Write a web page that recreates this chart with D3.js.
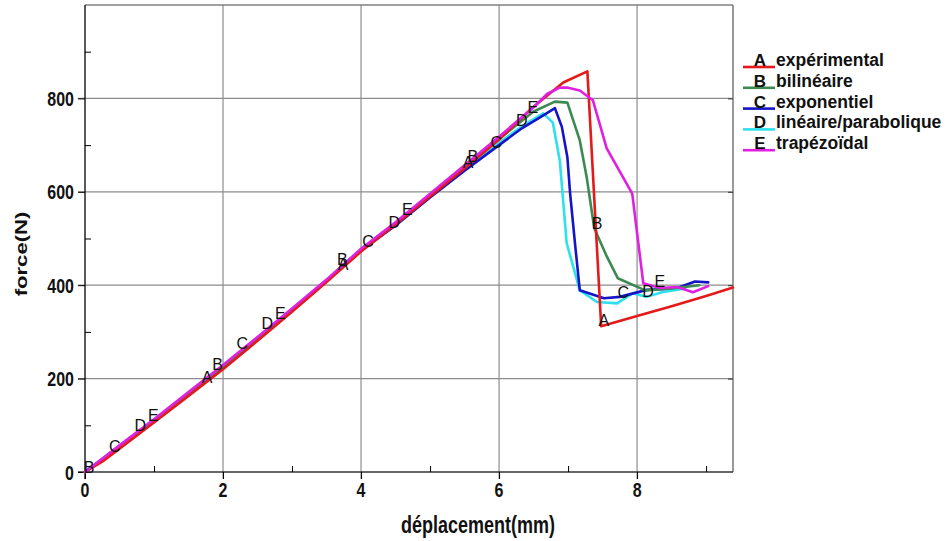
<!DOCTYPE html>
<html><head><meta charset="utf-8">
<script src="https://cdn.jsdelivr.net/npm/d3@7"></script>
<style>
html,body{margin:0;padding:0;background:#fff;}
text{font-family:"Liberation Sans",Arial,sans-serif;}
</style></head>
<body><svg id="c" width="951" height="541"></svg>
<script>
// ---- data ----
const xMajorTicks = [0, 2, 4, 6, 8];
const xMinorTicks = [1, 3, 5, 7, 9];
const yMajorTicks = [0, 200, 400, 600, 800];
const yMinorTicks = [100, 300, 500, 700, 900];
const xTitle = "déplacement(mm)";
const yTitle = "force(N)";

const seriesLetters = ["A", "B", "C", "D", "E"];
const seriesNames = ["expérimental", "bilinéaire", "exponentiel", "linéaire/parabolique", "trapézoïdal"];

const expData = [[0,0],[0.25,22],[0.5,50],[1,106],[1.5,163],[2,220],[2.5,281],[3,343],[3.5,407],[4,472],[4.5,530],[5,590],[5.5,650],[6,712],[6.5,782],[6.93,834],[7.28,858],[7.48,312],[8,334],[8.5,355],[9,377],[9.39,395]];
const bilData = [[0,0],[0.5,54],[1,110],[1.5,168],[2,226],[2.5,286],[3,347],[3.5,410],[4,476],[4.5,532],[5,593],[5.5,653],[6,713],[6.5,772],[6.81,793],[6.99,791],[7.17,710],[7.27,631],[7.38,522],[7.55,465],[7.72,415],[8.12,389],[8.5,393],[8.9,400]];
const expoData = [[0,0],[0.5,55],[1,110],[1.5,167],[2,225],[2.5,285],[3,346],[3.5,409],[4,474],[4.5,528],[5,588],[5.5,645],[6,700],[6.33,736],[6.6,760],[6.81,779],[6.91,739],[6.99,674],[7.03,596],[7.1,490],[7.17,389],[7.52,372],[7.75,375],[8.14,390],[8.4,392],[8.62,396],[8.84,408],[9.03,406]];
const linParData = [[0,0],[0.5,56],[1,111],[1.5,168],[2,226],[2.5,287],[3,348],[3.5,410],[4,476],[4.5,531],[5,592],[5.5,650],[6,705],[6.33,740],[6.64,768],[6.78,748],[6.88,667],[6.98,490],[7.17,389],[7.42,364],[7.71,361],[7.94,383],[8.14,375],[8.36,385],[8.7,393]];
const trapData = [[0,0],[0.5,57],[1,113],[1.5,171],[2,229],[2.5,289],[3,350],[3.5,412],[4,478],[4.5,535],[5,596],[5.5,657],[6,718],[6.5,781],[6.7,810],[6.88,823],[7.0,823],[7.17,817],[7.36,796],[7.56,693],[7.93,596],[7.96,560],[8.09,404],[8.33,394],[8.58,396],[8.81,385],[9.03,398]];

// letter markers along curves (x, force)
const expMarks = [[1.77,204],[3.74,446],[5.55,664],[7.52,325]];
const bilMarks = [[0.06,11],[1.92,232],[3.73,456],[5.62,676],[7.42,533]];
const expoMarks = [[0.43,56],[2.28,276],[4.10,494],[5.96,706],[7.80,385]];
const linParMarks = [[0.80,101],[2.64,319],[4.48,535],[6.33,753],[8.16,387]];
const trapMarks = [[0.99,122],[2.83,340],[4.67,563],[6.49,781],[8.33,409]];

const seriesData = [expData, bilData, expoData, linParData, trapData];
const seriesMarks = [expMarks, bilMarks, expoMarks, linParMarks, trapMarks];
const seriesColors = ["#e41a1a", "#3c8a52", "#1414c8", "#2ee0ee", "#e020e0"];
const drawOrder = [3, 2, 1, 0, 4];

// ---- layout ----
const svg = d3.select("#c");
const pLeft = 85, pRight = 733, pTop = 5, pBottom = 472;
const x = d3.scaleLinear().domain([0, 9.39]).range([pLeft, pRight]);
const y = d3.scaleLinear().domain([0, 1000]).range([pBottom, pTop]);

// grid
const grid = svg.append("g");
grid.selectAll("line.gx").data(xMajorTicks.filter(d => d > 0)).join("line")
  .attr("x1", d => x(d)).attr("x2", d => x(d)).attr("y1", pTop).attr("y2", pBottom + 7)
  .attr("stroke", "#8c8c8c").attr("stroke-width", 1.2);
grid.selectAll("line.gy").data(yMajorTicks.filter(d => d > 0)).join("line")
  .attr("x1", pLeft - 7).attr("x2", pRight).attr("y1", d => y(d)).attr("y2", d => y(d))
  .attr("stroke", "#8c8c8c").attr("stroke-width", 1.2);

// frame top/right
svg.append("line").attr("x1", pLeft).attr("x2", pRight).attr("y1", pTop).attr("y2", pTop)
  .attr("stroke", "#808080").attr("stroke-width", 1.6);
svg.append("line").attr("x1", pRight).attr("x2", pRight).attr("y1", pTop).attr("y2", pBottom)
  .attr("stroke", "#808080").attr("stroke-width", 1.6);
// right inner ticks
svg.append("g").attr("transform", `translate(${pRight},0)`)
  .call(d3.axisRight(y).tickValues(yMajorTicks.filter(d => d > 0)).tickSize(-5).tickFormat(""))
  .call(g => g.select(".domain").remove())
  .call(g => g.selectAll("line").attr("stroke", "#333"));

// bottom axis
svg.append("g").attr("transform", `translate(0,${pBottom})`)
  .call(d3.axisBottom(x).tickValues(xMajorTicks).tickSize(7).tickFormat("").tickSizeOuter(0))
  .call(g => g.selectAll("line").attr("stroke", "#000"))
  .call(g => g.select(".domain").attr("stroke", "#333").attr("stroke-width", 1.3).attr("d", `M${pLeft - 7},0H${pRight}`));
svg.append("g").attr("transform", `translate(0,${pBottom})`)
  .call(d3.axisBottom(x).tickValues(xMinorTicks).tickSize(-6).tickFormat(""))
  .call(g => g.select(".domain").remove())
  .call(g => g.selectAll("line").attr("stroke", "#000"));
// left axis
svg.append("g").attr("transform", `translate(${pLeft},0)`)
  .call(d3.axisLeft(y).tickValues(yMajorTicks).tickSize(7).tickFormat("").tickSizeOuter(0))
  .call(g => g.selectAll("line").attr("stroke", "#000"))
  .call(g => g.select(".domain").attr("stroke", "#000").attr("stroke-width", 1.3).attr("d", `M0,${pTop}V${pBottom + 7}`));
svg.append("g").attr("transform", `translate(${pLeft},0)`)
  .call(d3.axisLeft(y).tickValues(yMinorTicks).tickSize(-6).tickFormat(""))
  .call(g => g.select(".domain").remove())
  .call(g => g.selectAll("line").attr("stroke", "#000"));

// tick labels (tall, condensed look)
svg.append("g").selectAll("text").data(xMajorTicks).join("text")
  .attr("transform", d => `translate(${x(d)},497) scale(1,1.32)`)
  .attr("text-anchor", "middle").attr("font-size", 16).attr("font-weight", "bold").attr("fill", "#111")
  .text(d => d);
svg.append("g").selectAll("text").data(yMajorTicks).join("text")
  .attr("transform", d => `translate(74,${y(d) + 7.5}) scale(1,1.32)`)
  .attr("text-anchor", "end").attr("font-size", 16).attr("font-weight", "bold").attr("fill", "#111")
  .text(d => d);

// axis titles
svg.append("text").attr("transform", "translate(478,533) scale(1,1.32)")
  .attr("text-anchor", "middle").attr("font-size", 18).attr("font-weight", "bold").attr("fill", "#111")
  .text(xTitle);
svg.append("text").attr("transform", "translate(27,254) rotate(-90) scale(1.3,1)")
  .attr("text-anchor", "middle").attr("font-size", 17).attr("font-weight", "bold").attr("fill", "#111")
  .text(yTitle);

// curves
const line = d3.line().x(d => x(d[0])).y(d => y(d[1]));
const curves = svg.append("g");
drawOrder.forEach(i => {
  curves.append("path").datum(seriesData[i]).attr("d", line)
    .attr("fill", "none").attr("stroke", seriesColors[i]).attr("stroke-width", 2.6)
    .attr("stroke-linejoin", "round").attr("stroke-linecap", "round");
});
// letter markers
const marks = svg.append("g");
drawOrder.forEach(i => {
  marks.selectAll(null).data(seriesMarks[i]).join("text")
    .attr("x", d => x(d[0])).attr("y", d => y(d[1]) + 6)
    .attr("text-anchor", "middle").attr("font-size", 16).attr("fill", "#111")
    .text(seriesLetters[i]);
});

// legend
const lg = svg.append("g");
seriesNames.forEach((name, i) => {
  const by = 66 + i * 20.8;
  lg.append("line").attr("x1", 743).attr("x2", 775).attr("y1", by + 1).attr("y2", by + 1)
    .attr("stroke", seriesColors[i]).attr("stroke-width", 2.6);
  lg.append("text").attr("x", 760).attr("y", by).attr("text-anchor", "middle")
    .attr("font-size", 17).attr("font-weight", "bold").attr("fill", "#111").text(seriesLetters[i]);
  lg.append("text").attr("x", 776).attr("y", by)
    .attr("font-size", 17.5).attr("font-weight", "bold").attr("fill", "#111").text(name);
});
</script></body></html>
